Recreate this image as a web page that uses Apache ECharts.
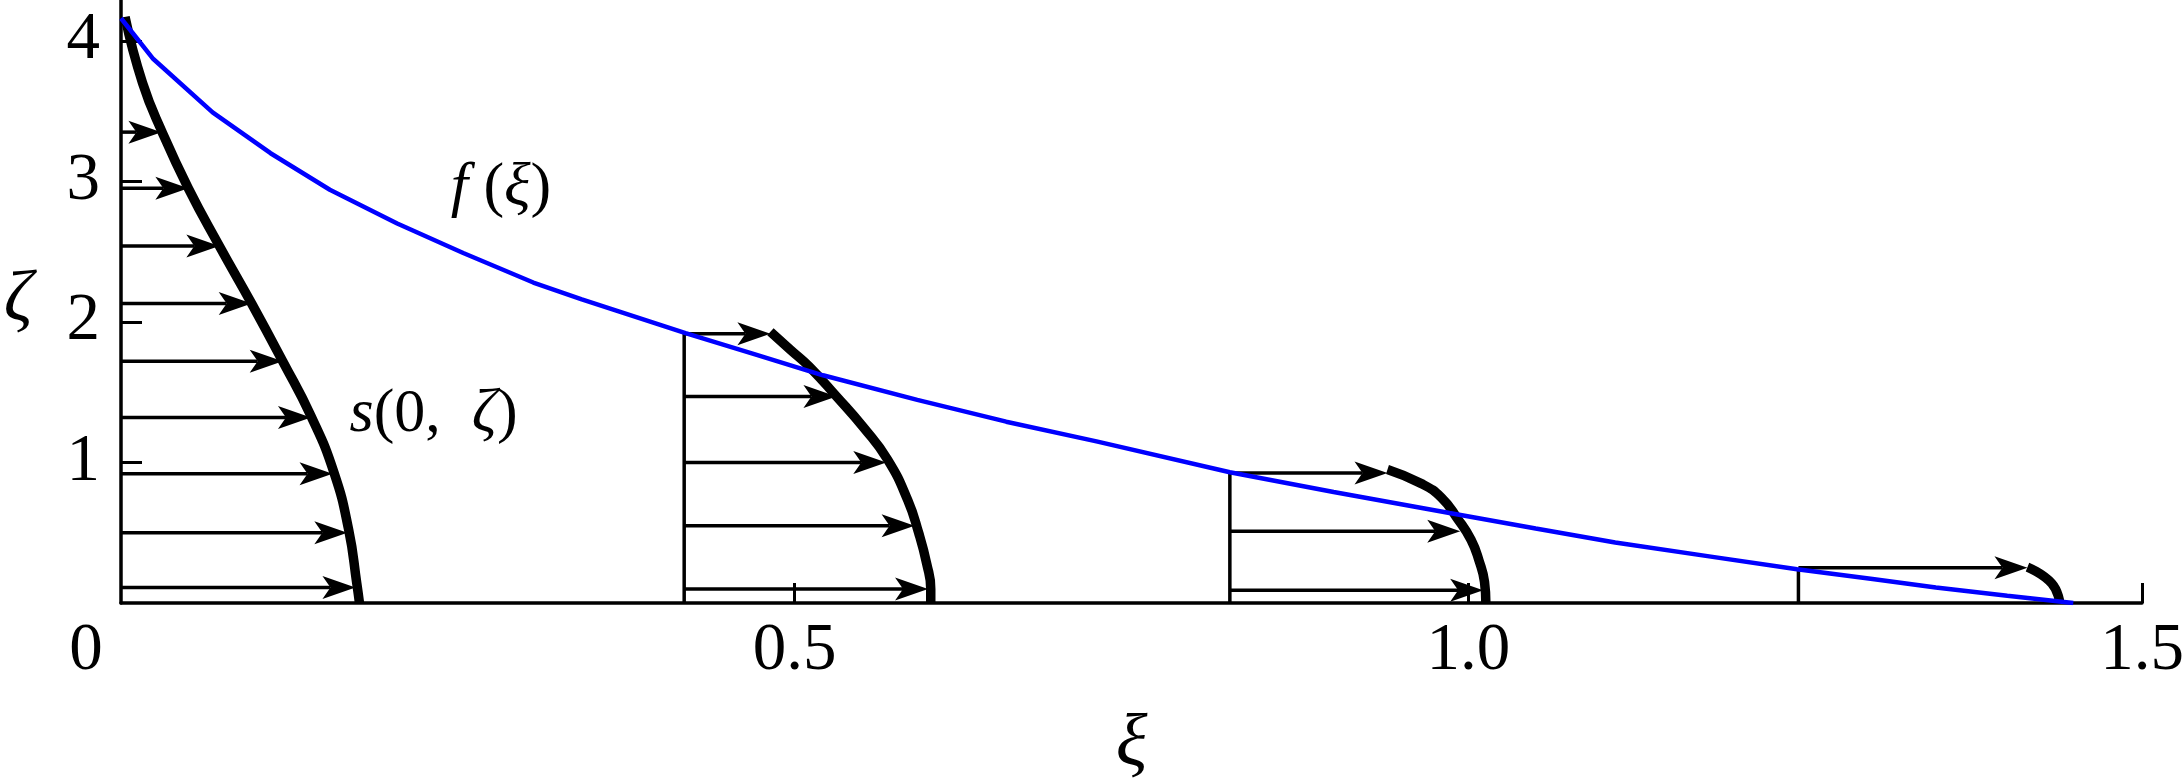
<!DOCTYPE html>
<html><head><meta charset="utf-8">
<script src="https://cdn.jsdelivr.net/npm/echarts@6/dist/echarts.min.js"></script>
<style>html,body{margin:0;padding:0;background:#fff}#c{width:2184px;height:782px}</style>
</head><body><div id="c"></div>
<script>
// ---- data ----
// boundary curve f(xi)
const fXi   = [0, 0.024, 0.068, 0.111, 0.155, 0.205, 0.254, 0.306, 0.342, 0.419, 0.470, 0.521, 0.591, 0.657, 0.724, 0.823, 0.900, 0.986, 1.050, 1.109, 1.180, 1.244, 1.300, 1.347, 1.400, 1.449];
const fZeta = [4.16, 3.87, 3.49, 3.20, 2.94, 2.70, 2.49, 2.28, 2.16, 1.92, 1.77, 1.62, 1.445, 1.29, 1.15, 0.93, 0.79, 0.64, 0.53, 0.43, 0.33, 0.24, 0.17, 0.11, 0.052, 0];

// velocity profile envelopes
const s1Xi   = [0.003, 0.016, 0.031, 0.050, 0.073, 0.097, 0.120, 0.141, 0.158, 0.169, 0.175, 0.177];
const s1Zeta = [4.17, 3.70, 3.34, 2.95, 2.54, 2.13, 1.72, 1.33, 0.93, 0.52, 0.14, 0];
const s2Xi   = [0.482, 0.497, 0.511, 0.531, 0.551, 0.569, 0.584, 0.592, 0.598, 0.601, 0.601];
const s2Zeta = [1.93, 1.80, 1.68, 1.47, 1.25, 1.02, 0.73, 0.50, 0.28, 0.10, 0];
const s3Xi   = [0.940, 0.965, 0.980, 0.992, 1.002, 1.008, 1.012, 1.013];
const s3Zeta = [0.95, 0.85, 0.75, 0.60, 0.45, 0.30, 0.15, 0];
const s4Xi   = [1.415, 1.433, 1.439];
const s4Zeta = [0.255, 0.14, 0];

// profile bases (vertical lines) and their tops
const profileBase = [0, 0.418, 0.823, 1.245];
const profileTop  = [4.17, 1.92, 0.93, 0.25];

// arrows per profile: heights and tip positions
const arrowZeta = [
  [0.11, 0.50, 0.92, 1.32, 1.72, 2.13, 2.54, 2.95, 3.35],
  [0.10, 0.55, 1.00, 1.47, 1.915],
  [0.09, 0.51, 0.925],
  [0.25]
];
const arrowTip = [
  [0.174, 0.168, 0.157, 0.141, 0.120, 0.097, 0.073, 0.050, 0.030],
  [0.599, 0.589, 0.568, 0.531, 0.482],
  [1.011, 0.994, 0.940],
  [1.415]
];

// axes
const xTickValues  = [0.5, 1.0, 1.5];
const xLabelValues = [0, 0.5, 1.0, 1.5];
const yTickValues  = [1, 2, 3, 4];

// annotation anchors
const fLabelAt = [0.282, 2.95];
const sLabelAt = [0.232, 1.34];

// ---- build ----
const FONT = '"Liberation Serif", "Times New Roman", serif';
const zip = (xs, ys) => xs.map((x, i) => [x, ys[i]]);

const arrowData = [];
arrowZeta.forEach((zs, p) => zs.forEach((z, i) => arrowData.push([profileBase[p], z, arrowTip[p][i]])));
const vertData = profileBase.slice(1).map((b, i) => [b, profileTop[i + 1]]);

function curve(xs, ys) {
  return {
    type: 'line', data: zip(xs, ys), showSymbol: false, symbol: 'none', smooth: 0.5,
    lineStyle: { color: '#000', width: 9.5, cap: 'butt', join: 'round' }, z: 3, silent: true
  };
}

const chart = echarts.init(document.getElementById('c'), null, { renderer: 'canvas' });
chart.setOption({
  animation: false,
  backgroundColor: '#fff',
  grid: { left: 121, right: 42, top: 0, bottom: 179, outerBoundsMode: 'none', containLabel: false },
  xAxis: {
    type: 'value', min: 0, max: 1.5,
    axisLine: { show: true, onZero: false, lineStyle: { color: '#000', width: 3.5 } },
    axisTick: { show: true, inside: true, length: 20, lineStyle: { color: '#000', width: 3 }, customValues: xTickValues },
    axisLabel: {
      customValues: xLabelValues, margin: 15, color: '#000', fontFamily: FONT, fontSize: 67,
      formatter: v => v === 0 ? '{z|0}' : v.toFixed(1),
      rich: { z: { fontFamily: FONT, fontSize: 67, color: '#000', padding: [0, 70, 0, 0] } }
    },
    splitLine: { show: false },
    name: 'ξ', nameLocation: 'middle', nameGap: 106, nameMoveOverlap: false,
    nameTextStyle: { fontFamily: FONT, fontStyle: 'italic', fontSize: 74, color: '#000' }
  },
  yAxis: {
    type: 'value', min: 0, max: 4.29,
    axisLine: { show: true, onZero: false, lineStyle: { color: '#000', width: 3.5 } },
    axisTick: { show: true, inside: true, length: 21, lineStyle: { color: '#000', width: 3 }, customValues: yTickValues },
    axisLabel: { customValues: yTickValues, margin: 21, color: '#000', fontFamily: FONT, fontSize: 67 },
    splitLine: { show: false },
    name: 'ζ', nameLocation: 'middle', nameRotate: 0, nameGap: 88, nameMoveOverlap: false,
    nameTextStyle: { fontFamily: FONT, fontStyle: 'italic', fontSize: 72, color: '#000', padding: [12, 0, 0, 0] }
  },
  series: [
    curve(s1Xi, s1Zeta), curve(s2Xi, s2Zeta), curve(s3Xi, s3Zeta), curve(s4Xi, s4Zeta),
    {
      type: 'custom', data: vertData, encode: { x: 0, y: 1 }, z: 2, silent: true,
      renderItem: (params, api) => {
        const p0 = api.coord([api.value(0), 0]);
        const p1 = api.coord([api.value(0), api.value(1)]);
        return { type: 'line', shape: { x1: p0[0], y1: p0[1], x2: p1[0], y2: p1[1] }, style: { stroke: '#000', lineWidth: 3.5 } };
      }
    },
    {
      type: 'custom', data: arrowData, encode: { x: [0, 2], y: 1 }, z: 2, silent: true,
      renderItem: (params, api) => {
        const p0 = api.coord([api.value(0), api.value(1)]);
        const p1 = api.coord([api.value(2), api.value(1)]);
        const L = 33, W = 23, N = 8;
        const tx = p1[0], ty = p1[1];
        return {
          type: 'group', children: [
            { type: 'line', shape: { x1: p0[0], y1: p0[1], x2: tx - L + N, y2: ty }, style: { stroke: '#000', lineWidth: 3.5 } },
            { type: 'polygon', shape: { points: [[tx, ty], [tx - L, ty - W / 2], [tx - L + N, ty], [tx - L, ty + W / 2]] }, style: { fill: '#000' } }
          ]
        };
      }
    },
    {
      type: 'line', data: zip(fXi, fZeta), showSymbol: false, symbol: 'none', smooth: false,
      lineStyle: { color: '#0000ff', width: 4.5 }, z: 5, silent: true
    },
    {
      type: 'scatter', symbolSize: 0, z: 6, silent: true,
      label: {
        show: true, position: 'inside', color: '#000', opacity: 1, textBorderWidth: 0,
        rich: {
          i: { fontFamily: FONT, fontStyle: 'italic', fontSize: 62, color: '#000', textBorderWidth: 0 },
          r: { fontFamily: FONT, fontSize: 62, color: '#000', textBorderWidth: 0 }
        }
      },
      data: [
        { value: fLabelAt, label: { formatter: '{i|f }{r|(}{i|ξ}{r|)}' } },
        { value: sLabelAt, label: { formatter: '{i|s}{r|(0,  }{i|ζ}{r|)}' } }
      ]
    }
  ]
});
</script>
</body></html>
